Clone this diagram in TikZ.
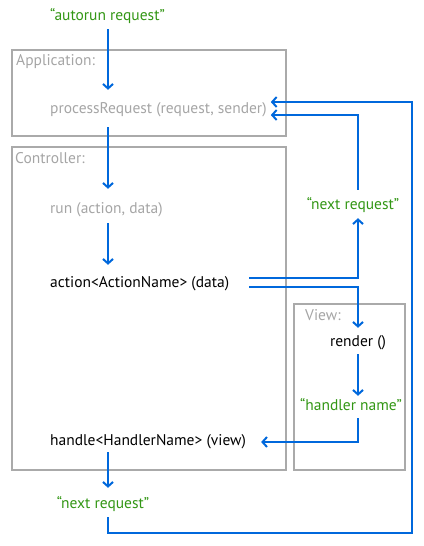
\documentclass[tikz,border=0pt]{standalone}
\usepackage{fontspec}
\setmainfont{PT Sans}
\usetikzlibrary{arrows.meta}
\definecolor{flowblue}{RGB}{0,104,220}
\definecolor{txtgreen}{RGB}{50,150,20}
\definecolor{boxgray}{RGB}{170,170,170}
\definecolor{txtgray}{RGB}{165,165,165}
\tikzset{
  txt/.style={inner sep=0pt, text height=11pt, text depth=4pt, font=\fontsize{15.5}{18}\selectfont},
  graytxt/.style={txt, text=txtgray},
  blacktxt/.style={txt, text=black},
  greentxt/.style={txt, text=txtgreen},
  frame/.style={draw=boxgray, line width=1.1pt},
  framelabel/.style={txt, text=txtgray, anchor=west},
  arr/.style={draw=flowblue, line width=2pt, -{Straight Barb[length=4.5pt,width=10pt]}},
}
\begin{document}
\begin{tikzpicture}[x=1pt,y=-1pt]
\useasboundingbox (0,0) rectangle (423,546);
% frames
\draw[frame] (12,50) rectangle (286,136);
\draw[frame] (12,147) rectangle (286,470);
\draw[frame] (294,304) rectangle (405,470);
\node[framelabel] (applbl) at (16,62) {Application:};
\node[framelabel] (ctrllbl) at (15,160) {Controller:};
\node[framelabel] (viewlbl) at (305,317) {View:};
% column coordinates
\coordinate (cL) at (108,0);
\coordinate (cR) at (358,0);
\coordinate (loopBR) at (412,533);
% texts
\node[greentxt, anchor=west] (auto) at (50,17) {“autorun request”};
\node[graytxt, anchor=west] (proc) at (50,110) {processRequest (request, sender)};
\node[graytxt, anchor=west] (run) at (50,210) {run (action, data)};
\node[blacktxt, anchor=west] (act) at (50,284) {action<ActionName> (data)};
\node[greentxt] (nr1) at (353,206) {“next request”};
\node[blacktxt] (render) at (358,343) {render ()};
\node[greentxt] (hn) at (351,407) {“handler name”};
\node[blacktxt, anchor=west] (handle) at (50,442) {handle<HandlerName> (view)};
\node[greentxt] (nr2) at (103,505) {“next request”};
% connectors
\draw[arr, shorten <=4.5pt, shorten >=12.5pt] (auto.south -| cL) -- (proc.north -| cL);
\draw[arr, shorten <=9.5pt, shorten >=13.5pt] (proc.south -| cL) -- (run.north -| cL);
\draw[arr, shorten <=5.5pt, shorten >=11.5pt] (run.south -| cL) -- (act.north -| cL);
\draw[arr, shorten >=4.5pt] ([xshift=20pt,yshift=6pt]act.east) -| (cR |- nr1.south);
\draw[arr, shorten <=8.5pt, shorten >=4pt] (cR |- nr1.north) |- ([yshift=-5pt]proc.east);
\draw[arr, shorten >=7.5pt] ([xshift=20pt,yshift=-3pt]act.east) -| (cR |- render.north);
\draw[arr, shorten <=3.5pt, shorten >=3.5pt] (cR |- render.south) -- (cR |- hn.north);
\draw[arr, shorten <=3.5pt, shorten >=15pt] (cR |- hn.south) |- (handle.east);
\draw[arr, shorten <=2.5pt, shorten >=9.5pt] (handle.south -| cL) -- (nr2.north -| cL);
\draw[arr, shorten <=4.5pt, shorten >=4pt] (nr2.south -| cL) |- (loopBR) |- ([yshift=8pt]proc.east);
\end{tikzpicture}
\end{document}
